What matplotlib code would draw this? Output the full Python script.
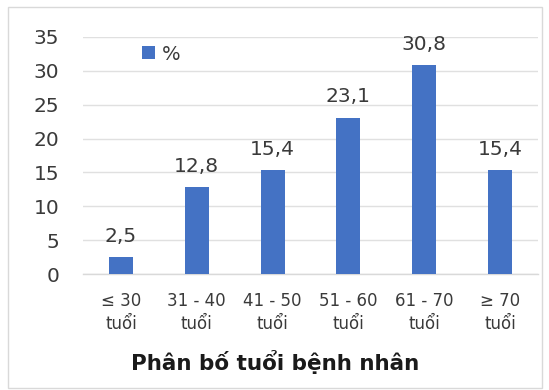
import matplotlib
matplotlib.use("Agg")
import matplotlib.pyplot as plt
from matplotlib.patches import Rectangle, Patch

categories = ["≤ 30\ntuổi", "31 - 40\ntuổi", "41 - 50\ntuổi", "51 - 60\ntuổi", "61 - 70\ntuổi", "≥ 70\ntuổi"]
values = [2.5, 12.8, 15.4, 23.1, 30.8, 15.4]
value_labels = ["2,5", "12,8", "15,4", "23,1", "30,8", "15,4"]
yticks = [0, 5, 10, 15, 20, 25, 30, 35]
series_name = "%"
title = "Phân bố tuổi bệnh nhân"

W, H = 549, 390
fig = plt.figure(figsize=(W / 100, H / 100), dpi=100)
fig.patch.set_facecolor("white")

# outer chart frame
fig.patches.append(Rectangle((8 / W, 1 - 388 / H), (542 - 8) / W, (388 - 7) / H,
                             transform=fig.transFigure, fill=False,
                             edgecolor="#d9d9d9", linewidth=1.0))

left, right = 83 / W, 538 / W
bottom, top = 1 - 274 / H, 1 - 37 / H
ax = fig.add_axes([left, bottom, right - left, top - bottom])

color = "#4472C4"
x = list(range(len(categories)))
bars = ax.bar(x, values, width=0.315, color=color, zorder=3)

ax.set_xlim(-0.5, len(categories) - 0.5)
ax.set_ylim(0, 35)
ax.set_yticks(yticks)
ax.set_yticklabels([str(v) for v in yticks])
ax.set_xticks(x)
ax.set_xticklabels(categories, linespacing=1.35)

for s in ["top", "right", "left"]:
    ax.spines[s].set_visible(False)
ax.spines["bottom"].set_color("#d9d9d9")
ax.spines["bottom"].set_linewidth(1.0)
ax.yaxis.grid(True, color="#e0e0e0", linewidth=1.0, zorder=0)
ax.set_axisbelow(True)

ax.tick_params(axis="y", length=0, pad=17, labelsize=14.5, labelcolor="#3a3a3a")
ax.tick_params(axis="x", length=0, pad=13, labelsize=12, labelcolor="#3a3a3a")

for xi, v, lab in zip(x, values, value_labels):
    ax.annotate(lab, (xi, v), xytext=(0, 8), textcoords="offset points",
                ha="center", va="bottom", fontsize=14.5, color="#3a3a3a")

handle = Patch(facecolor=color, edgecolor="none")
fig.legend([handle], [series_name], loc="center left",
           bbox_to_anchor=(142 / W, 1 - 54 / H), frameon=False,
           handlelength=0.65, handleheight=0.65, handletextpad=0.35,
           borderpad=0, borderaxespad=0, fontsize=14, labelcolor="#3a3a3a")

fig.text((128 + 423) / 2 / W, 1 - 362 / H, title, ha="center", va="center",
         fontsize=15.5, fontweight="bold", color="#1a1a1a")

fig.savefig("out.png", dpi=100)
